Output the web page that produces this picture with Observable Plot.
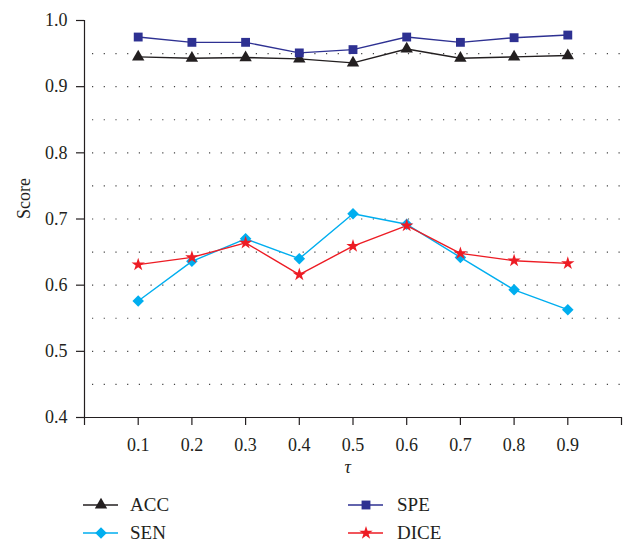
<!DOCTYPE html>
<html>
<head>
<meta charset="utf-8">
<script src="https://cdn.jsdelivr.net/npm/d3@7"></script>
<script src="https://cdn.jsdelivr.net/npm/@observablehq/plot@0.6"></script>
<style>
  body { margin: 0; background: #fff; font-family: "Liberation Serif", "DejaVu Serif", serif; }
  #chart { position: relative; width: 630px; }
  #legend { position: relative; width: 630px; height: 58px; }
  .item { position: absolute; display: flex; align-items: center; font-size: 19px; color: #231F20; }
  .item svg { display: block; }
</style>
</head>
<body>
<div id="chart"></div>
<div id="legend"></div>
<script>
const tau  = [0.1, 0.2, 0.3, 0.4, 0.5, 0.6, 0.7, 0.8, 0.9];
const acc  = [0.945, 0.943, 0.944, 0.942, 0.936, 0.957, 0.943, 0.945, 0.947];
const spe  = [0.975, 0.967, 0.967, 0.951, 0.956, 0.975, 0.967, 0.974, 0.978];
const sen  = [0.576, 0.636, 0.670, 0.640, 0.708, 0.692, 0.642, 0.593, 0.563];
const dice = [0.631, 0.642, 0.664, 0.616, 0.659, 0.690, 0.648, 0.637, 0.633];
const seriesNames = ["ACC", "SPE", "SEN", "DICE"];
const yTicks = [0.4, 0.5, 0.6, 0.7, 0.8, 0.9, 1.0];
const xTicks = [0, 0.1, 0.2, 0.3, 0.4, 0.5, 0.6, 0.7, 0.8, 0.9, 1.0];
const gridVals = [0.45, 0.5, 0.55, 0.6, 0.65, 0.7, 0.75, 0.8, 0.85, 0.9, 0.95];

const colors  = {ACC: "#231F20", SPE: "#2E3192", SEN: "#00AEEF", DICE: "#ED1C24"};
const symbols = {ACC: "triangle", SPE: "square", SEN: "diamond2", DICE: "star"};
const radii   = {ACC: 4.6, SPE: 5.0, SEN: 5.2, DICE: 4.2};
const valuesBy = {ACC: acc, SPE: spe, SEN: sen, DICE: dice};

const rows = seriesNames.flatMap(s => tau.map((t, i) => ({series: s, tau: t, score: valuesBy[s][i]})));

const ink = "#231F20";
const chart = Plot.plot({
  width: 630,
  height: 485,
  marginLeft: 84,
  marginRight: 9,
  marginTop: 20,
  marginBottom: 68,
  style: {fontFamily: "'Liberation Serif', 'DejaVu Serif', serif", fontSize: "18px", color: ink, background: "#fff"},
  x: {domain: [0, 1]},
  y: {domain: [0.4, 1.0]},
  marks: [
    Plot.ruleY(gridVals, {stroke: "#444", strokeWidth: 1.2, strokeDasharray: "1.2,10.5", strokeDashoffset: -8}),
    Plot.axisY({ticks: yTicks, tickFormat: d => d.toFixed(1), tickSize: 8, tickPadding: 9, label: null, stroke: ink, strokeWidth: 1.2, fill: ink}),
    Plot.axisX({ticks: xTicks, tickFormat: d => (d > 0.05 && d < 0.95) ? d.toFixed(1) : "", tickSize: 8, tickPadding: 13, label: null, stroke: ink, strokeWidth: 1.2, fill: ink}),
    Plot.ruleX([0], {stroke: ink, strokeWidth: 1.2}),
    Plot.ruleY([0.4], {stroke: ink, strokeWidth: 1.2}),
    Plot.text(["τ"], {x: 0.49, frameAnchor: "bottom", dy: 55, fontStyle: "italic", fontSize: 18, fill: ink}),
    Plot.text(["Score"], {frameAnchor: "left", dx: -60, rotate: -90, fontSize: 18, fill: ink}),
    ...seriesNames.map(s => Plot.line(rows.filter(r => r.series === s), {x: "tau", y: "score", stroke: colors[s], strokeWidth: 1.4})),
    ...seriesNames.map(s => Plot.dot(rows.filter(r => r.series === s), {x: "tau", y: "score", symbol: symbols[s], r: radii[s], fill: colors[s], stroke: "none"}))
  ]
});
document.getElementById("chart").appendChild(chart);

// Legend
const legendPos = {
  ACC:  {left: 83, top: 20},
  SPE:  {left: 348, top: 20},
  SEN:  {left: 83, top: 48},
  DICE: {left: 348, top: 48}
};
const symMap = {triangle: d3.symbolTriangle, square: d3.symbolSquare, diamond2: d3.symbolDiamond2, star: d3.symbolStar};
const legend = document.getElementById("legend");
for (const s of seriesNames) {
  const item = document.createElement("div");
  item.className = "item";
  item.style.left = legendPos[s].left + "px";
  item.style.top = (legendPos[s].top - 14) + "px";
  item.style.height = "28px";
  const svg = d3.create("svg").attr("width", 35).attr("height", 28);
  svg.append("line").attr("x1", 0).attr("x2", 35).attr("y1", 14).attr("y2", 14)
    .attr("stroke", colors[s]).attr("stroke-width", 1.4);
  svg.append("path")
    .attr("transform", "translate(18,14)")
    .attr("d", d3.symbol(symMap[symbols[s]], Math.PI * radii[s] * radii[s])())
    .attr("fill", colors[s]);
  item.appendChild(svg.node());
  const label = document.createElement("span");
  label.textContent = s;
  label.style.marginLeft = (s === "ACC" || s === "SEN") ? "12px" : "14px";
  item.appendChild(label);
  legend.appendChild(item);
}
</script>
</body>
</html>
